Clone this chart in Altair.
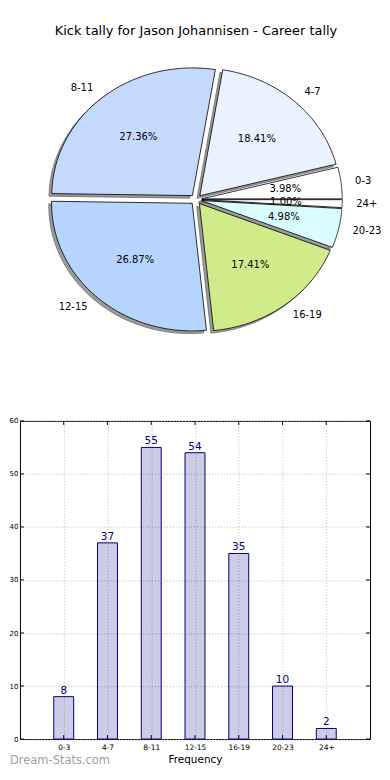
import json
import altair as alt
import pandas as pd

# ---------------- data ----------------
cats = ["0-3", "4-7", "8-11", "12-15", "16-19", "20-23", "24+"]
counts = [8, 37, 55, 54, 35, 10, 2]
colors = ["#ffffff", "#ebf2ff", "#c5d9ff", "#b5d5ff", "#d0ec8a", "#dafeff", "#ffffff"]
y_ticks = [0, 10, 20, 30, 40, 50, 60]
title_text = "Kick tally for Jason Johannisen - Career tally"
x_title = "Frequency"
watermark = "Dream-Stats.com"

# ---------------- layout / style ----------------
W = 351          # panel width
PIE_H = 413      # pie panel height
BAR_H = 319      # bar plot height
PX0, PY0 = 19, 8  # page position of the panel origin
CX, CY = 195.5, 199   # pie centre (page px)
RX, RY = 141, 128     # pie radii (page px; the original is slightly elliptical)
EXP = 0.04            # explode fraction
SHX, SHY = -2.8, 2.6  # shadow offset
N = 60                # points per arc
FONT = "DejaVu Sans"

df = pd.DataFrame({"cat": cats, "count": counts, "idx": list(range(len(cats)))})
df_t = pd.DataFrame({"v": y_ticks})

xs = alt.Scale(domain=[PX0, PX0 + W], range=[0, W])
ys = alt.Scale(domain=[PY0, PY0 + PIE_H], range=[0, PIE_H])
col_scale = alt.Scale(domain=cats, range=colors)

base = (
    alt.Chart(df)
    .transform_window(cum="sum(count)", sort=[alt.SortField("idx")], frame=[None, 0])
    .transform_joinaggregate(total="sum(count)")
    .transform_calculate(f0="(datum.cum - datum.count) / datum.total")
    .transform_calculate(f1="datum.cum / datum.total")
    .transform_calculate(am="PI * (datum.f0 + datum.f1)")
    .transform_calculate(ecx=f"{CX} + {EXP} * {RX} * cos(datum.am)")
    .transform_calculate(ecy=f"{CY} - {EXP} * {RY} * sin(datum.am)")
)

poly = (
    base.transform_calculate(k=f"sequence(0, {N + 2})")
    .transform_flatten(["k"])
    .transform_calculate(t=f"clamp((datum.k - 1) / ({N} - 1), 0, 1)")
    .transform_calculate(a="2 * PI * (datum.f0 + (datum.f1 - datum.f0) * datum.t)")
    .transform_calculate(rr=f"(datum.k == 0 || datum.k == {N + 1}) ? 0 : 1")
    .transform_calculate(px=f"datum.ecx + datum.rr * {RX} * cos(datum.a)")
    .transform_calculate(py=f"datum.ecy - datum.rr * {RY} * sin(datum.a)")
    .transform_calculate(sx=f"datum.px + ({SHX})")
    .transform_calculate(sy=f"datum.py + ({SHY})")
)

shadow = poly.mark_line(fill="#9a9a9a", stroke="#707070", strokeWidth=0.8).encode(
    x=alt.X("sx:Q", scale=xs, axis=None),
    y=alt.Y("sy:Q", scale=ys, axis=None),
    detail="cat:N",
    order="k:Q",
)

wedges = poly.mark_line(stroke="black", strokeWidth=0.8).encode(
    x=alt.X("px:Q", scale=xs, axis=None),
    y=alt.Y("py:Q", scale=ys, axis=None),
    fill=alt.Fill("cat:N", scale=col_scale, legend=None),
    detail="cat:N",
    order="k:Q",
)

lab = base.transform_calculate(
    lx=f"datum.ecx + 1.1 * {RX} * cos(datum.am)"
).transform_calculate(
    ly=f"datum.ecy - 1.1 * {RY} * sin(datum.am)"
).transform_calculate(c="cos(datum.am)")

lab_enc = dict(
    x=alt.X("lx:Q", scale=xs, axis=None),
    y=alt.Y("ly:Q", scale=ys, axis=None),
    text="cat:N",
)
labels_l = lab.transform_filter("datum.c >= 0").mark_text(
    align="left", baseline="middle", fontSize=10, font=FONT, color="black"
).encode(**lab_enc)
labels_r = lab.transform_filter("datum.c < 0").mark_text(
    align="right", baseline="middle", fontSize=10, font=FONT, color="black"
).encode(**lab_enc)

pct = (
    base.transform_calculate(qx=f"datum.ecx + 0.6 * {RX} * cos(datum.am)")
    .transform_calculate(qy=f"datum.ecy - 0.6 * {RY} * sin(datum.am)")
    .transform_calculate(pt="format(datum.count / datum.total * 100, '.2f') + '%'")
    .mark_text(align="center", baseline="middle", fontSize=10, font=FONT, color="black")
    .encode(
        x=alt.X("qx:Q", scale=xs, axis=None),
        y=alt.Y("qy:Q", scale=ys, axis=None),
        text="pt:N",
    )
)

title = alt.Chart(pd.DataFrame({"t": [title_text]})).mark_text(
    align="center", baseline="middle", fontSize=13, font=FONT, color="black"
).encode(x=alt.value(195.5 - PX0), y=alt.value(30 - PY0), text="t:N")

pie = alt.layer(shadow, wedges, labels_l, labels_r, pct, title).properties(
    width=W, height=PIE_H, view=alt.ViewBackground(stroke="transparent", strokeWidth=0)
)

# ---------------- bar chart ----------------
bx = alt.Scale(domain=[-1, len(cats)], padding=0, nice=False)
by = alt.Scale(domain=[0, 60], padding=0, nice=False)
label_expr = f"{json.dumps(cats)}[datum.value]"

x_axis = alt.Axis(
    values=list(range(len(cats))), labelExpr=label_expr, title=x_title,
    grid=True, gridDash=[1, 2], gridColor="#a8a8a8", gridWidth=0.8,
    domain=False, ticks=False, labelFontSize=7.5, labelPadding=4, labelFlush=False,
    labelFont=FONT, titleFont=FONT, titleFontSize=10.5, titleFontWeight="normal",
    titlePadding=4, labelColor="black", titleColor="black", minExtent=0,
)
y_axis = alt.Axis(
    values=y_ticks, title=None, grid=True, gridDash=[1, 2], gridColor="#a8a8a8",
    gridWidth=0.8, domain=False, ticks=False, labelFontSize=7, labelPadding=2,
    labelFont=FONT, labelColor="black", labelFlush=False, minExtent=0,
)

bb = alt.Chart(df)
bars = bb.mark_bar(size=20, fill="#000080", fillOpacity=0.2, stroke="#000080", strokeWidth=1).encode(
    x=alt.X("idx:Q", scale=bx, axis=x_axis),
    y=alt.Y("count:Q", scale=by, axis=y_axis),
)
vals = bb.mark_text(color="#000080", fontSize=10.5, font=FONT, baseline="bottom", dy=-1).encode(
    x=alt.X("idx:Q", scale=bx), y=alt.Y("count:Q", scale=by), text="count:Q"
)
tick_top = bb.mark_rule(color="black", strokeWidth=1).encode(
    x=alt.X("idx:Q", scale=bx), y=alt.value(0), y2=alt.value(4)
)
tick_bot = bb.mark_rule(color="black", strokeWidth=1).encode(
    x=alt.X("idx:Q", scale=bx), y=alt.value(BAR_H), y2=alt.value(BAR_H - 4)
)
tt = alt.Chart(df_t)
tick_l = tt.mark_rule(color="black", strokeWidth=1).encode(
    y=alt.Y("v:Q", scale=by), x=alt.value(0), x2=alt.value(4)
)
tick_r = tt.mark_rule(color="black", strokeWidth=1).encode(
    y=alt.Y("v:Q", scale=by), x=alt.value(W - 4), x2=alt.value(W)
)
wm = alt.Chart(pd.DataFrame({"t": [watermark]})).mark_text(
    align="left", baseline="middle", fontSize=11.5, font=FONT, color="#a0a0a0"
).encode(x=alt.value(-10), y=alt.value(BAR_H + 22), text="t:N")

bar_chart = alt.layer(bars, vals, tick_top, tick_bot, tick_l, tick_r, wm).properties(
    width=W, height=BAR_H, view=alt.ViewBackground(stroke="black", strokeWidth=1)
)

chart = (
    alt.vconcat(pie, bar_chart, spacing=0, bounds="flush")
    .properties(padding=0)
    .configure_view(stroke="transparent")
    .configure(font=FONT)
)

chart.save("out.html", embed_options={"renderer": "svg", "actions": False})
